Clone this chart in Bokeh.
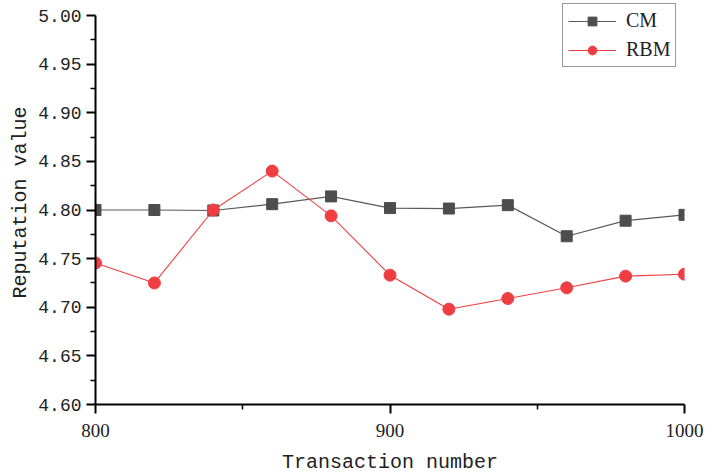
from bokeh.plotting import figure
from bokeh.models import FixedTicker, Range1d, CustomJSTickFormatter
from bokeh.embed import file_html
from bokeh.resources import INLINE

# Reputation over transactions for the two models
transactions = [800, 820, 840, 860, 880, 900, 920, 940, 960, 980, 1000]
cm_values = [4.800, 4.800, 4.7995, 4.806, 4.814, 4.802, 4.8015, 4.805, 4.773, 4.789, 4.795]
rbm_values = [4.7455, 4.725, 4.800, 4.840, 4.794, 4.733, 4.698, 4.709, 4.720, 4.732, 4.734]

x_ticks = [800, 900, 1000]
x_minor = [850, 950]
y_ticks = [4.60, 4.65, 4.70, 4.75, 4.80, 4.85, 4.90, 4.95, 5.00]
y_minor = [4.625, 4.675, 4.725, 4.775, 4.825, 4.875, 4.925, 4.975]

# The frame reaches the top edge so the legend can sit above the 5.00 line;
# the y axis itself is bounded to 4.60 .. 5.00.
frame_h = 404
y_top = 4.60 + 0.40 * frame_h / 389

p = figure(
    frame_width=589, frame_height=frame_h,
    min_border_left=95, min_border_right=21, min_border_top=0, min_border_bottom=71,
    x_range=Range1d(800, 1000), y_range=Range1d(4.60, y_top),
    output_backend="svg", toolbar_location=None,
)
p.outline_line_color = None
p.grid.visible = False
p.background_fill_color = "white"
p.border_fill_color = "white"

gray = "#4d4d4d"
red = "#ef3e42"

p.line(transactions, cm_values, line_color="#5a5a5a", line_width=1.2, legend_label="CM")
p.scatter(transactions, cm_values, marker="square", size=11,
          fill_color=gray, line_color=gray, legend_label="CM")
p.line(transactions, rbm_values, line_color=red, line_width=1.1, legend_label="RBM")
p.scatter(transactions, rbm_values, marker="circle", size=12,
          fill_color=red, line_color=red, legend_label="RBM")

# Axes
xa = p.xaxis[0]
xa.ticker = FixedTicker(ticks=x_ticks, minor_ticks=x_minor)
xa.axis_label = "Transaction number"
xa.axis_label_text_font = "Liberation Mono"
xa.axis_label_text_font_size = "20px"
xa.axis_label_text_font_style = "normal"
xa.axis_label_text_color = "#222222"
xa.axis_label_standoff = 11
xa.major_label_text_font = "Liberation Serif"
xa.major_label_text_font_size = "19px"
xa.major_label_text_color = "#222222"
xa.major_label_standoff = 10

ya = p.yaxis[0]
ya.ticker = FixedTicker(ticks=y_ticks, minor_ticks=y_minor)
ya.bounds = (4.60, 5.00)
ya.formatter = CustomJSTickFormatter(code="return tick.toFixed(2);")
ya.axis_label = "Reputation value"
ya.axis_label_text_font = "Liberation Mono"
ya.axis_label_text_font_size = "20px"
ya.axis_label_text_font_style = "normal"
ya.axis_label_text_color = "#222222"
ya.axis_label_standoff = 3
ya.major_label_text_font = "Liberation Mono"
ya.major_label_text_font_size = "18px"
ya.major_label_text_color = "#222222"
ya.major_label_standoff = 5

for ax in (xa, ya):
    ax.axis_line_width = 2
    ax.axis_line_color = "black"
    ax.major_tick_line_width = 2
    ax.major_tick_line_color = "black"
    ax.minor_tick_line_width = 1.5
    ax.minor_tick_line_color = "black"
    ax.major_tick_in = 0
    ax.major_tick_out = 9
    ax.minor_tick_in = 0
    ax.minor_tick_out = 5

# Legend
lg = p.legend[0]
lg.location = (467, 337)
lg.border_line_color = "#333333"
lg.border_line_width = 1.5
lg.background_fill_color = "white"
lg.background_fill_alpha = 1
lg.padding = 5
lg.spacing = 6
lg.margin = 0
lg.glyph_width = 48
lg.glyph_height = 22
lg.label_standoff = 10
lg.label_text_font = "Liberation Serif"
lg.label_text_font_size = "20px"
lg.label_text_color = "#222222"

open("out.html", "w").write(file_html(p, INLINE))
